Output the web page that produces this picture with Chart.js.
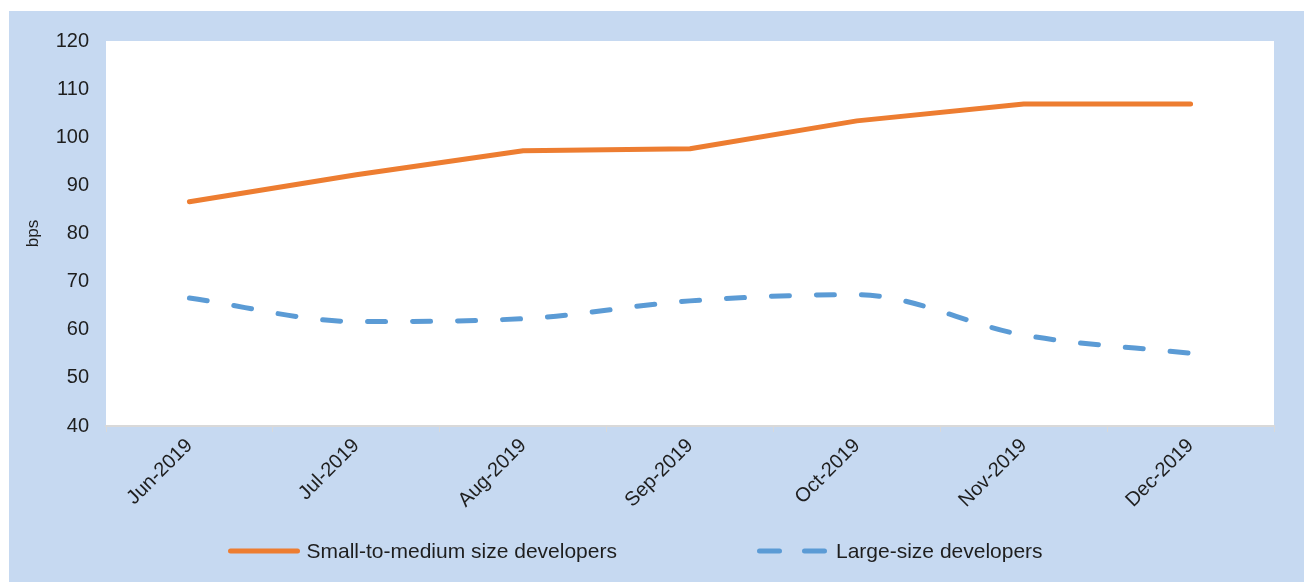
<!DOCTYPE html>
<html>
<head>
<meta charset="utf-8">
<script src="https://cdn.jsdelivr.net/npm/chart.js@4/dist/chart.umd.min.js"></script>
<style>
  html, body { margin: 0; padding: 0; background: #ffffff; }
  #wrap { width: 1304px; height: 582px; }
</style>
</head>
<body>
<div id="wrap"><canvas id="c" width="1304" height="582"></canvas></div>
<script>
// ---- data ----
const categories = ['Jun-2019', 'Jul-2019', 'Aug-2019', 'Sep-2019', 'Oct-2019', 'Nov-2019', 'Dec-2019'];
const smallToMedium = [86.6, 92.2, 97.2, 97.6, 103.4, 106.9, 106.9];
const largeSize = [66.6, 61.7, 62.3, 66.0, 67.3, 58.9, 55.1];
const seriesNames = ['Small-to-medium size developers', 'Large-size developers'];
const yMin = 40, yMax = 120, yStep = 10;
const yTitle = 'bps';

const FONT = "'Liberation Sans', Arial, sans-serif";
const TEXT = '#1e1e1e';
const ORANGE = '#ED7D31';
const BLUE = '#5B9BD5';
const PANEL = '#C6D9F1';

const backgroundPlugin = {
  id: 'bg',
  beforeDraw(chart) {
    const ctx = chart.ctx, a = chart.chartArea;
    ctx.save();
    ctx.fillStyle = '#ffffff';
    ctx.fillRect(0, 0, chart.width, chart.height);
    ctx.fillStyle = PANEL;
    ctx.fillRect(9, 11, chart.width - 9, chart.height - 11);
    ctx.fillStyle = '#ffffff';
    ctx.fillRect(a.left, a.top, a.right - a.left, a.bottom - a.top);
    ctx.restore();
  }
};

const legendPlugin = {
  id: 'customLegend',
  afterDraw(chart) {
    const ctx = chart.ctx;
    const y = 551;
    const items = [
      { x: 230.5, w: 67, gap: 9, dash: [], ds: chart.data.datasets[0] },
      { x: 759.5, w: 65, gap: 11.5, dash: [20, 25], ds: chart.data.datasets[1] }
    ];
    ctx.save();
    ctx.font = '21px ' + FONT;
    ctx.textBaseline = 'middle';
    ctx.textAlign = 'left';
    items.forEach(it => {
      ctx.beginPath();
      ctx.strokeStyle = it.ds.borderColor;
      ctx.lineWidth = 5;
      ctx.lineCap = 'round';
      ctx.setLineDash(it.dash);
      ctx.moveTo(it.x, y);
      ctx.lineTo(it.x + it.w, y);
      ctx.stroke();
      ctx.setLineDash([]);
      ctx.fillStyle = TEXT;
      ctx.fillText(it.ds.label, it.x + it.w + it.gap, y + 1);
    });
    ctx.restore();
  }
};

new Chart(document.getElementById('c'), {
  type: 'line',
  data: {
    labels: categories,
    datasets: [
      {
        label: seriesNames[0],
        data: smallToMedium,
        borderColor: ORANGE,
        backgroundColor: ORANGE,
        borderWidth: 5,
        borderCapStyle: 'round',
        borderJoinStyle: 'round',
        pointRadius: 0,
        tension: 0,
        fill: false
      },
      {
        label: seriesNames[1],
        data: largeSize,
        borderColor: BLUE,
        backgroundColor: BLUE,
        borderWidth: 5,
        borderDash: [18, 27],
        borderCapStyle: 'round',
        borderJoinStyle: 'round',
        pointRadius: 0,
        cubicInterpolationMode: 'monotone',
        fill: false
      }
    ]
  },
  options: {
    responsive: false,
    animation: false,
    devicePixelRatio: 1,
    layout: { padding: { top: 41, right: 30, bottom: 0, left: 0 } },
    plugins: {
      legend: { display: false },
      tooltip: { enabled: false }
    },
    scales: {
      x: {
        type: 'category',
        offset: true,
        grid: {
          display: true,
          offset: true,
          drawOnChartArea: false,
          drawTicks: true,
          tickLength: 6,
          color: '#D9D9D9',
          lineWidth: 1
        },
        border: { display: true, color: '#D9D9D9', width: 2 },
        ticks: {
          color: TEXT,
          font: { family: FONT, size: 20 },
          minRotation: 45,
          maxRotation: 45,
          padding: 2,
          autoSkip: false
        },
        afterFit(scale) { scale.height = 156; }
      },
      y: {
        min: yMin,
        max: yMax,
        grid: { display: false, drawTicks: false },
        border: { display: false },
        ticks: {
          stepSize: yStep,
          color: TEXT,
          font: { family: FONT, size: 20 },
          padding: 17
        },
        title: {
          display: true,
          text: yTitle,
          color: TEXT,
          font: { family: FONT, size: 17 },
          padding: { top: 23, bottom: 0 }
        },
        afterFit(scale) { scale.width = 106; }
      }
    }
  },
  plugins: [backgroundPlugin, legendPlugin]
});
</script>
</body>
</html>
